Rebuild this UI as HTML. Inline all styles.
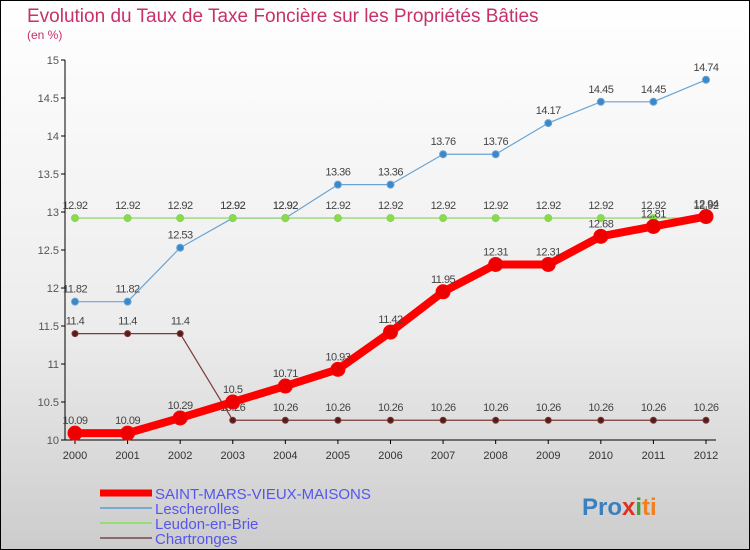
<!DOCTYPE html>
<html><head><meta charset="utf-8"><style>
body{margin:0;}
#wrap{width:750px;height:550px;position:relative;overflow:hidden;font-family:"Liberation Sans",sans-serif;}
</style></head><body>
<div id="wrap">
<svg id="chart" width="750" height="550">
<defs><linearGradient id="bg" x1="0" y1="0" x2="0" y2="1"><stop offset="0" stop-color="#ffffff"/><stop offset="0.6" stop-color="#ececec"/><stop offset="1" stop-color="#cccccc"/></linearGradient></defs>
<rect x="0.5" y="0.5" width="749" height="549" fill="url(#bg)" stroke="#000"/>
<text x="27" y="22" font-size="19" fill="#c8306a">Evolution du Taux de Taxe Foncière sur les Propriétés Bâties</text>
<text x="27" y="39" font-size="12" fill="#c8306a">(en %)</text>
<g id="axes"></g><g id="series"></g>
<g>
<line x1="100" y1="493" x2="152" y2="493" stroke="#f00" stroke-width="7"/>
<text x="155" y="499" font-size="15" fill="#5555ee">SAINT-MARS-VIEUX-MAISONS</text>
<line x1="100" y1="508" x2="152" y2="508" stroke="#7aaad0" stroke-width="2"/>
<text x="155" y="514" font-size="15" fill="#5555ee">Lescherolles</text>
<line x1="100" y1="523" x2="152" y2="523" stroke="#99dd77" stroke-width="2"/>
<text x="155" y="529" font-size="15" fill="#5555ee">Leudon-en-Brie</text>
<line x1="100" y1="538" x2="152" y2="538" stroke="#8a6a6a" stroke-width="2"/>
<text x="155" y="544" font-size="15" fill="#5555ee">Chartronges</text>
</g>
<text x="582" y="515" font-size="24" font-weight="bold"><tspan fill="#3a7fc0">Pro</tspan><tspan fill="#e03020">x</tspan><tspan fill="#40a040">i</tspan><tspan fill="#f08020">ti</tspan></text>
</svg></div>
<script>
const years=[2000,2001,2002,2003,2004,2005,2006,2007,2008,2009,2010,2011,2012];
const yTicks=[10,10.5,11,11.5,12,12.5,13,13.5,14,14.5,15];
const yTickLabels=["10","10.5","11","11.5","12","12.5","13","13.5","14","14.5","15"];
const saintMars=[10.09,10.09,10.29,10.5,10.71,10.93,11.42,11.95,12.31,12.31,12.68,12.81,12.94];
const lescherolles=[11.82,11.82,12.53,12.92,12.92,13.36,13.36,13.76,13.76,14.17,14.45,14.45,14.74];
const leudon=[12.92,12.92,12.92,12.92,12.92,12.92,12.92,12.92,12.92,12.92,12.92,12.92,12.92];
const chartronges=[11.4,11.4,11.4,10.26,10.26,10.26,10.26,10.26,10.26,10.26,10.26,10.26,10.26];
const NS="http://www.w3.org/2000/svg";
const xS=i=>75+i*(706-75)/(years.length-1);
const yS=v=>440-(v-10)*76;
function mk(t,a,p){const e=document.createElementNS(NS,t);for(const k in a)e.setAttribute(k,a[k]);p.appendChild(e);return e;}
const ax=document.getElementById('axes');
const yl=mk('line',{x1:65,y1:60,x2:65,y2:440,stroke:'#000'},ax);


const xl=mk('line',{x1:65,y1:440,x2:716,y2:440,stroke:'#000'},ax);


yTicks.forEach((v,i)=>{
 mk('line',{x1:61,y1:yS(v),x2:65,y2:yS(v),stroke:'#000'},ax);
 const t=mk('text',{x:59,y:yS(v)+4,'font-size':11,fill:'#555','text-anchor':'end'},ax);
 t.textContent=yTickLabels[i];
 
 
});
years.forEach((y,i)=>{
 mk('line',{x1:xS(i),y1:440,x2:xS(i),y2:444,stroke:'#000'},ax);
 const t=mk('text',{x:xS(i),y:459,'font-size':11,fill:'#333','text-anchor':'middle'},ax);
 t.textContent=y;
 
 
});
const sg=document.getElementById('series');
function series(vals,color,w,r,dot,name){
 const g=mk('g',{},sg);
 
 
 const pl=mk('polyline',{points:vals.map((v,i)=>xS(i)+','+yS(v)).join(' '),fill:'none',stroke:color,'stroke-width':w,'stroke-linejoin':'round'},g);
 
 
 vals.forEach((v,i)=>{
  const c=mk('circle',{cx:xS(i),cy:yS(v),r:r,fill:dot,stroke:color,'stroke-width':1},g);
  
  
  const t=mk('text',{x:xS(i),y:yS(v)-9,'font-size':11,fill:'#444','text-anchor':'middle','letter-spacing':'-0.5'},g);
  t.textContent=String(v);
  
  
 });
}
series(chartronges,'#7a3a3a',1.2,3,'#5a1a1a','chartronges');
series(lescherolles,'#6aa4d4',1.2,3.5,'#3a88c8','lescherolles');
series(leudon,'#88d060',1.2,3.5,'#88dd44','leudon');
series(saintMars,'#ff0000',8,7,'#ee0000','saint-mars');
</script>
</body></html>
